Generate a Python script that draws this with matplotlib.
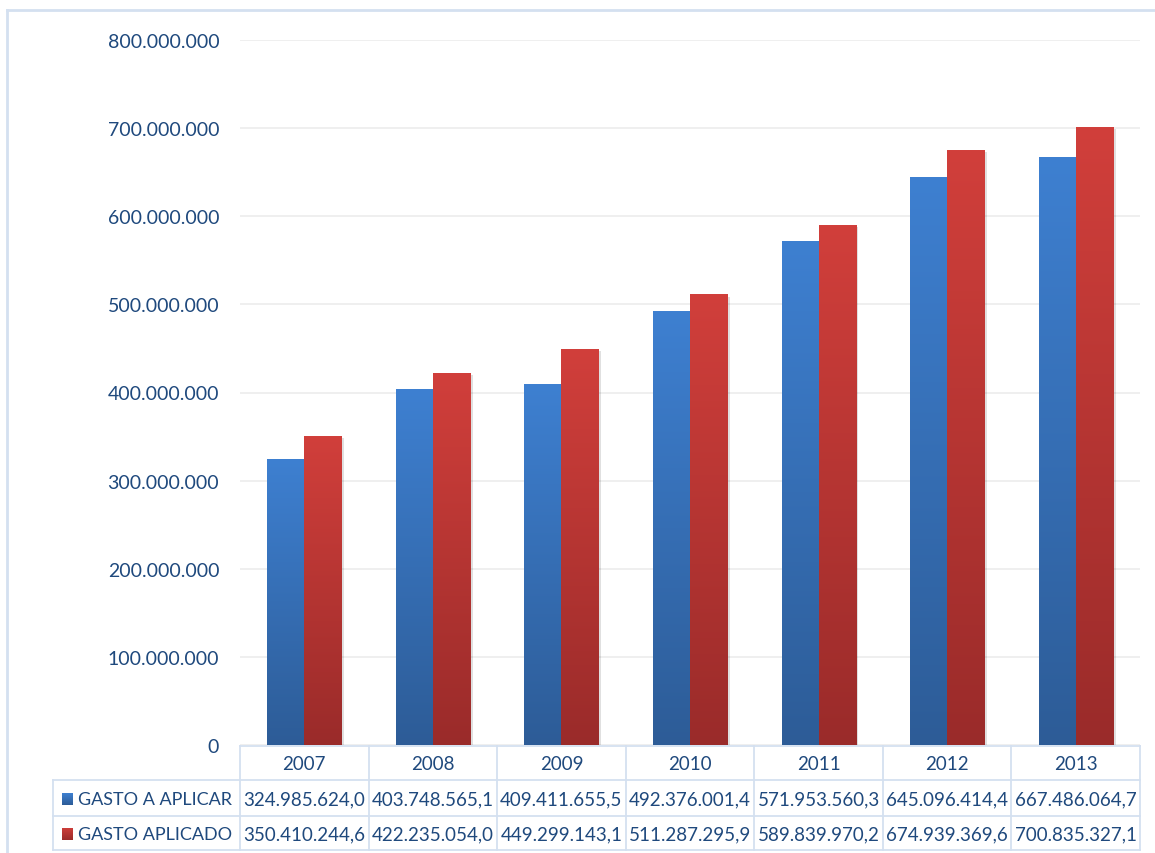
import numpy as np
import matplotlib
matplotlib.use('Agg')
import matplotlib.pyplot as plt
import matplotlib.patheffects as pe
from matplotlib.transforms import blended_transform_factory
from matplotlib.colors import LinearSegmentedColormap

plt.rcParams['font.family'] = ['Lato', 'DejaVu Sans']

years = ['2007', '2008', '2009', '2010', '2011', '2012', '2013']
series_names = ['GASTO A APLICAR', 'GASTO APLICADO']
gasto_a_aplicar = [324985624.0, 403748565.1, 409411655.5, 492376001.4,
                   571953560.3, 645096414.4, 667486064.7]
gasto_aplicado = [350410244.6, 422235054.0, 449299143.1, 511287295.9,
                  589839970.2, 674939369.6, 700835327.1]
yticks = [0, 100e6, 200e6, 300e6, 400e6, 500e6, 600e6, 700e6, 800e6]

text_color = '#1f497d'
line_color = '#d4e0f0'
grads = [('#3e80d1', '#2d5c97'), ('#d13f3b', '#9a2b2a')]


def fmt_int(v):
    return f'{v:,.0f}'.replace(',', '.')


def fmt_dec(v):
    s = f'{v:,.1f}'
    return s.replace(',', 'X').replace('.', ',').replace('X', '.')


W, H = 1155, 854
fig = plt.figure(figsize=(W / 100, H / 100), dpi=100)
ax = fig.add_axes([240 / W, 1 - 746 / H, 900 / W, 705 / H])

x = np.arange(len(years))
bw = 0.288
grad = np.linspace(1, 0, 256).reshape(-1, 1)
for k, vals in enumerate([gasto_a_aplicar, gasto_aplicado]):
    offs = (k - 0.5) * bw
    bars = ax.bar(x + offs, vals, width=bw, color=grads[k][0], zorder=2,
                  path_effects=[pe.SimplePatchShadow(offset=(2, -1.5), alpha=0.12, shadow_rgbFace='k'),
                                pe.Normal()])
    cmap = LinearSegmentedColormap.from_list('g%d' % k, [grads[k][1], grads[k][0]])
    for b in bars:
        x0, y0 = b.get_x(), b.get_y()
        im = ax.imshow(grad, cmap=cmap, aspect='auto', zorder=3,
                       extent=[x0, x0 + b.get_width(), y0, y0 + b.get_height()])
        im.set_clip_path(b)

ax.set_xlim(-0.5, len(years) - 0.5)
ax.set_ylim(0, 800e6)
ax.set_yticks(yticks)
ax.set_yticklabels([fmt_int(v) for v in yticks])
ax.set_xticks([])
ax.tick_params(axis='y', length=0, pad=15, labelsize=14, labelcolor=text_color)
ax.grid(axis='y', color='#ececec', linewidth=1.2, zorder=0)
for s in ax.spines.values():
    s.set_visible(False)

# data table under the axes
tr = blended_transform_factory(ax.transData, fig.transFigure)
fy = lambda py: 1 - py / H
rows_y = [747, 781, 817, 851]
n = len(years)
lw = 1.3
fs = 13.5
# horizontal lines over the year columns
for py in rows_y:
    ax.plot([-0.5, n - 0.5], [fy(py)] * 2, transform=tr, color=line_color,
            lw=lw, clip_on=False)
# vertical lines between year columns
for i in range(n + 1):
    ax.plot([i - 0.5] * 2, [fy(rows_y[0]), fy(rows_y[-1])], transform=tr,
            color=line_color, lw=lw, clip_on=False)
# label column
for py in rows_y[1:]:
    fig.add_artist(plt.Line2D([53 / W, 240 / W], [fy(py)] * 2, color=line_color, lw=lw))
fig.add_artist(plt.Line2D([53 / W] * 2, [fy(781), fy(851)], color=line_color, lw=lw))

for i, yr in enumerate(years):
    ax.text(i, fy(765), yr, transform=tr, ha='center', va='center',
            fontsize=fs, color=text_color)
for r, (name, vals) in enumerate(zip(series_names, [gasto_a_aplicar, gasto_aplicado])):
    cy = (rows_y[r + 1] + rows_y[r + 2]) / 2 + 1
    for i, v in enumerate(vals):
        ax.text(i, fy(cy), fmt_dec(v), transform=tr, ha='center', va='center',
                fontsize=fs, color=text_color)
    fig.text(78 / W, fy(cy), name, ha='left', va='center', fontsize=13, color=text_color)
    # legend key with the same gradient
    cmap = LinearSegmentedColormap.from_list('k%d' % r, [grads[r][1], grads[r][0]])
    kax = fig.add_axes([62 / W, fy(cy + 6), 11 / W, 12 / H])
    kax.imshow(grad, cmap=cmap, aspect='auto')
    kax.axis('off')

# outer frame
fig.add_artist(plt.Line2D([7 / W, 7 / W], [0, fy(11)], color=line_color, lw=2))
fig.add_artist(plt.Line2D([7 / W, 1], [fy(11)] * 2, color=line_color, lw=2))

fig.savefig('out.png', dpi=100)
